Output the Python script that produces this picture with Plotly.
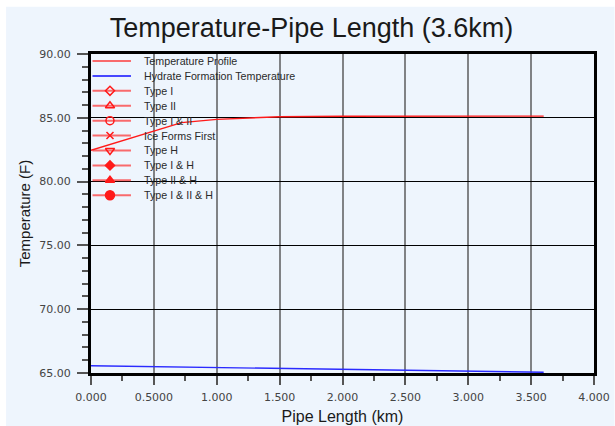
import plotly.graph_objects as go

# ---- data ----
pipe_km_temp = [0.0, 0.25, 0.5, 0.72, 1.0, 1.25, 1.5, 2.0, 2.5, 3.0, 3.6]
temp_profile_F = [82.45, 83.2, 83.95, 84.62, 84.88, 85.0, 85.08, 85.12, 85.13, 85.13, 85.13]

pipe_km_hyd = [0.0, 1.0, 2.0, 3.0, 3.6]
hydrate_temp_F = [65.57, 65.44, 65.30, 65.15, 65.06]

x_tick_vals = [0, 0.5, 1, 1.5, 2, 2.5, 3, 3.5, 4]
x_tick_text = ["0.000", "0.5000", "1.000", "1.500", "2.000", "2.500", "3.000", "3.500", "4.000"]
y_tick_vals = [65, 70, 75, 80, 85, 90]
y_tick_text = ["65.00", "70.00", "75.00", "80.00", "85.00", "90.00"]

legend_names = ["Temperature Profile", "Hydrate Formation Temperature", "Type I", "Type II",
                "Type I & II", "Ice Forms First", "Type H", "Type I & H", "Type II & H",
                "Type I & II & H"]
legend_symbols = [None, None, "diamond-open", "triangle-up-open", "circle-open", "x-thin-open",
                  "triangle-down-open", "diamond", "triangle-up", "circle"]
legend_sizes = [0, 0, 7, 8, 8, 7, 8, 7, 8, 9]

# ---- layout constants (pixels) ----
W, H = 615, 426
L, R, T, B = 91, 20.5, 54, 53.3
PW, PH = W - L - R, H - T - B

fig = go.Figure()

fig.add_trace(go.Scatter(x=pipe_km_temp, y=temp_profile_F, mode="lines",
                         line=dict(color="#ff1a1a", width=1.4), name="Temperature Profile",
                         showlegend=False))
fig.add_trace(go.Scatter(x=pipe_km_hyd, y=hydrate_temp_F, mode="lines",
                         line=dict(color="#2a2aff", width=1.4), name="Hydrate Formation Temperature",
                         showlegend=False))

# ---- custom legend drawn in a pixel-based overlay axis ----
leg_x0, leg_xm, leg_x1, leg_xt = 1.5, 19, 40, 51.5
leg_y0, leg_step = 7, 14.9
annotations = []
for i, name in enumerate(legend_names):
    yy = leg_y0 + i * leg_step
    if i == 1:
        lc = "rgba(40,40,255,0.85)"
    else:
        lc = "rgba(255,30,30,0.65)"
    fig.add_trace(go.Scatter(x=[leg_x0, leg_x1], y=[yy, yy], mode="lines",
                             line=dict(color=lc, width=2), xaxis="x2", yaxis="y2",
                             showlegend=False, hoverinfo="skip"))
    if legend_symbols[i] is not None:
        fig.add_trace(go.Scatter(x=[leg_xm], y=[yy], mode="markers",
                                 marker=dict(symbol=legend_symbols[i], size=legend_sizes[i],
                                             color="#ff1a1a",
                                             line=dict(color="#ff1a1a", width=1.5)),
                                 xaxis="x2", yaxis="y2", showlegend=False, hoverinfo="skip"))
    annotations.append(dict(x=leg_xt, y=yy, xref="x2", yref="y2", text=name, showarrow=False,
                            xanchor="left", yanchor="middle",
                            font=dict(family="Liberation Sans, Arial", size=10.7, color="#2a2a2a")))

tick_font = dict(family="DejaVu Sans", size=11, color="#444444")

fig.update_layout(
    width=W, height=H,
    margin=dict(l=L, r=R, t=T, b=B, pad=0, autoexpand=False),
    paper_bgcolor="white",
    plot_bgcolor="#EEF5FD",
    showlegend=False,
    title=dict(text="Temperature-Pipe Length (3.6km)", x=311.5 / W, xref="container", xanchor="center",
               y=1 - 28 / H, yref="container", yanchor="middle",
               font=dict(family="Liberation Sans, Arial", size=27, color="#1a1a1a")),
    xaxis=dict(range=[0, 4], tickmode="array", tickvals=x_tick_vals, ticktext=x_tick_text,
               tickfont=tick_font, ticks="outside", ticklen=9, tickwidth=1.5, tickcolor="#555555",
               ticklabelstandoff=3,
               minor=dict(tickmode="linear", tick0=0, dtick=0.25, ticklen=5, tickwidth=1.5,
                          tickcolor="#555555", showgrid=False),
               showgrid=True, gridcolor="rgba(60,60,60,0.62)", gridwidth=2.2,
               showline=True, linecolor="black", linewidth=3, mirror=True, zeroline=False,
               automargin=False,
               title=dict(text="Pipe Length (km)", standoff=8,
                          font=dict(family="Liberation Sans, Arial", size=16, color="#1a1a1a"))),
    yaxis=dict(range=[65, 90], tickmode="array", tickvals=y_tick_vals, ticktext=y_tick_text,
               tickfont=tick_font, ticks="outside", ticklen=11, tickwidth=1.5, tickcolor="#555555",
               ticklabelstandoff=4,
               minor=dict(tickmode="linear", tick0=65, dtick=1, ticklen=6, tickwidth=1.5,
                          tickcolor="#555555", showgrid=False),
               showgrid=True, gridcolor="black", gridwidth=1,
               showline=True, linecolor="black", linewidth=3, mirror=True, zeroline=False,
               automargin=False,
               title=dict(text="Temperature (F)", standoff=6,
                          font=dict(family="Liberation Sans, Arial", size=15, color="#1a1a1a"))),
    xaxis2=dict(overlaying="x", range=[0, PW], visible=False, fixedrange=True),
    yaxis2=dict(overlaying="y", range=[PH, 0], visible=False, fixedrange=True),
    annotations=annotations,
    shapes=[dict(type="rect", xref="paper", yref="paper", layer="below",
                 x0=(6 - L) / PW, x1=(W - L) / PW, y0=-B / PH, y1=(H - T - 6) / PH,
                 fillcolor="#EEF5FD", line=dict(width=0))],
)

fig.write_html("out.html")
